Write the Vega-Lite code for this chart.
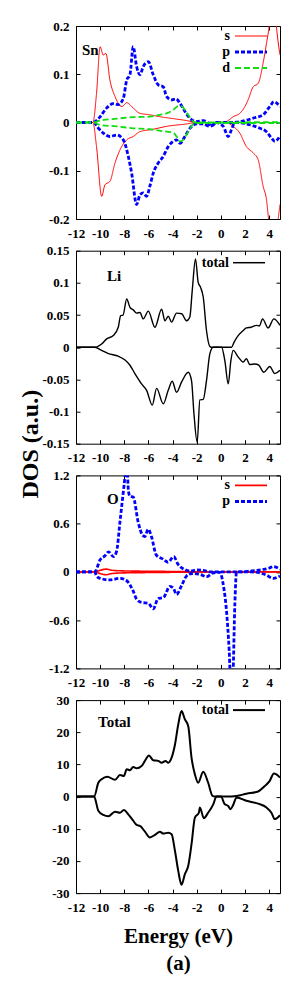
{
"$schema":"https://vega.github.io/schema/vega-lite/v6.json",
"background":"white",
"padding":{"left":17,"top":19,"right":19,"bottom":25},
"spacing":31.7,
"bounds":"flush",
"config":{
 "view":{"stroke":"#000","strokeWidth":1},
 "font":"Liberation Serif",
 "axis":{"labelFont":"Liberation Serif","labelFontWeight":"bold","labelFontSize":13,"labelColor":"#000","tickColor":"#000","tickSize":-4,"domain":false,"grid":false,"labelPadding":12,"labelOverlap":false,"labelFlush":false,"titleFont":"Liberation Serif","titleFontWeight":"bold","titleColor":"#000","labelExpr":"replace(format(datum.value, ''), '−', '-')"},
 "axisY":{"labelPadding":11},
 "legend":{"labelFont":"Liberation Serif","labelFontWeight":"bold","labelFontSize":14,"labelColor":"#000","symbolType":"stroke","symbolSize":1024,"labelAlign":"right","labelOffset":-37,"orient":"none","legendX":160,"padding":0,"rowPadding":2},
 "title":{"font":"Liberation Serif","fontWeight":"bold","color":"#000","fontSize":15}
},
"datasets":{
"sn":[
{"o":"s","s":"u","e":-12,"v":0},{"o":"s","s":"u","e":-10.6,"v":0},{"o":"s","s":"u","e":-10.3,"v":0.06},{"o":"s","s":"u","e":-10.0,"v":0.157},{"o":"s","s":"u","e":-9.75,"v":0.14},{"o":"s","s":"u","e":-9.52,"v":0.143},{"o":"s","s":"u","e":-9.19,"v":0.088},{"o":"s","s":"u","e":-8.77,"v":0.054},{"o":"s","s":"u","e":-8.2,"v":0.033},{"o":"s","s":"u","e":-7.8,"v":0.041},{"o":"s","s":"u","e":-7.26,"v":0.03},{"o":"s","s":"u","e":-6.7,"v":0.019},{"o":"s","s":"u","e":-5.9,"v":0.016},{"o":"s","s":"u","e":-5.05,"v":0.012},{"o":"s","s":"u","e":-3.95,"v":0.008},{"o":"s","s":"u","e":-2.84,"v":0.004},{"o":"s","s":"u","e":-2.0,"v":0},{"o":"s","s":"u","e":0.3,"v":0},{"o":"s","s":"u","e":0.6,"v":0.004},{"o":"s","s":"u","e":1.02,"v":0.012},{"o":"s","s":"u","e":1.57,"v":0.019},{"o":"s","s":"u","e":1.99,"v":0.033},{"o":"s","s":"u","e":2.26,"v":0.047},{"o":"s","s":"u","e":2.68,"v":0.074},{"o":"s","s":"u","e":3.09,"v":0.081},{"o":"s","s":"u","e":3.5,"v":0.123},{"o":"s","s":"u","e":3.78,"v":0.164},{"o":"s","s":"u","e":4.0,"v":0.2},{"o":"s","s":"u","e":4.3,"v":0.3},{"o":"s","s":"u","e":4.6,"v":0.2},{"o":"s","s":"u","e":4.9,"v":0.14},
{"o":"s","s":"d","e":-12,"v":0},{"o":"s","s":"d","e":-10.6,"v":0},{"o":"s","s":"d","e":-10.3,"v":-0.05},{"o":"s","s":"d","e":-9.87,"v":-0.153},{"o":"s","s":"d","e":-9.6,"v":-0.129},{"o":"s","s":"d","e":-9.19,"v":-0.122},{"o":"s","s":"d","e":-8.77,"v":-0.084},{"o":"s","s":"d","e":-8.36,"v":-0.057},{"o":"s","s":"d","e":-7.8,"v":-0.036},{"o":"s","s":"d","e":-7.26,"v":-0.029},{"o":"s","s":"d","e":-6.7,"v":-0.019},{"o":"s","s":"d","e":-5.6,"v":-0.014},{"o":"s","s":"d","e":-4.5,"v":-0.008},{"o":"s","s":"d","e":-2.84,"v":-0.003},{"o":"s","s":"d","e":-2.0,"v":0},{"o":"s","s":"d","e":0.4,"v":0},{"o":"s","s":"d","e":1.02,"v":-0.008},{"o":"s","s":"d","e":1.57,"v":-0.022},{"o":"s","s":"d","e":2.12,"v":-0.05},{"o":"s","s":"d","e":2.68,"v":-0.063},{"o":"s","s":"d","e":3.09,"v":-0.077},{"o":"s","s":"d","e":3.5,"v":-0.132},{"o":"s","s":"d","e":3.78,"v":-0.16},{"o":"s","s":"d","e":3.95,"v":-0.2},{"o":"s","s":"d","e":4.3,"v":-0.3},{"o":"s","s":"d","e":4.75,"v":-0.2},{"o":"s","s":"d","e":4.9,"v":-0.17},
{"o":"p","s":"u","e":-12,"v":0},{"o":"p","s":"u","e":-10.57,"v":0},{"o":"p","s":"u","e":-10.0,"v":0.012},{"o":"p","s":"u","e":-9.46,"v":0.03},{"o":"p","s":"u","e":-8.91,"v":0.039},{"o":"p","s":"u","e":-8.5,"v":0.037},{"o":"p","s":"u","e":-8.08,"v":0.05},{"o":"p","s":"u","e":-7.8,"v":0.088},{"o":"p","s":"u","e":-7.53,"v":0.099},{"o":"p","s":"u","e":-7.26,"v":0.157},{"o":"p","s":"u","e":-6.98,"v":0.116},{"o":"p","s":"u","e":-6.7,"v":0.099},{"o":"p","s":"u","e":-6.43,"v":0.116},{"o":"p","s":"u","e":-6.01,"v":0.126},{"o":"p","s":"u","e":-5.6,"v":0.099},{"o":"p","s":"u","e":-5.19,"v":0.078},{"o":"p","s":"u","e":-4.77,"v":0.074},{"o":"p","s":"u","e":-4.5,"v":0.054},{"o":"p","s":"u","e":-4.08,"v":0.047},{"o":"p","s":"u","e":-3.72,"v":0.049},{"o":"p","s":"u","e":-3.39,"v":0.04},{"o":"p","s":"u","e":-2.98,"v":0.023},{"o":"p","s":"u","e":-2.57,"v":0.009},{"o":"p","s":"u","e":-2.01,"v":0.002},{"o":"p","s":"u","e":-1.46,"v":0.004},{"o":"p","s":"u","e":-1.05,"v":-0.001},{"o":"p","s":"u","e":-0.77,"v":-0.007},{"o":"p","s":"u","e":-0.36,"v":0},{"o":"p","s":"u","e":1.0,"v":0},{"o":"p","s":"u","e":2.0,"v":0.004},{"o":"p","s":"u","e":2.68,"v":0.009},{"o":"p","s":"u","e":3.5,"v":0.016},{"o":"p","s":"u","e":4.05,"v":0.033},{"o":"p","s":"u","e":4.39,"v":0.043},{"o":"p","s":"u","e":4.9,"v":0.033},
{"o":"p","s":"d","e":-12,"v":0},{"o":"p","s":"d","e":-10.5,"v":0},{"o":"p","s":"d","e":-10.2,"v":-0.01},{"o":"p","s":"d","e":-9.74,"v":-0.022},{"o":"p","s":"d","e":-9.19,"v":-0.029},{"o":"p","s":"d","e":-8.63,"v":-0.026},{"o":"p","s":"d","e":-8.08,"v":-0.036},{"o":"p","s":"d","e":-7.67,"v":-0.07},{"o":"p","s":"d","e":-7.39,"v":-0.105},{"o":"p","s":"d","e":-6.98,"v":-0.17},{"o":"p","s":"d","e":-6.7,"v":-0.15},{"o":"p","s":"d","e":-6.43,"v":-0.146},{"o":"p","s":"d","e":-6.15,"v":-0.153},{"o":"p","s":"d","e":-5.88,"v":-0.132},{"o":"p","s":"d","e":-5.6,"v":-0.105},{"o":"p","s":"d","e":-5.19,"v":-0.084},{"o":"p","s":"d","e":-4.77,"v":-0.07},{"o":"p","s":"d","e":-4.36,"v":-0.05},{"o":"p","s":"d","e":-3.94,"v":-0.039},{"o":"p","s":"d","e":-3.67,"v":-0.036},{"o":"p","s":"d","e":-3.39,"v":-0.043},{"o":"p","s":"d","e":-2.98,"v":-0.029},{"o":"p","s":"d","e":-2.57,"v":-0.012},{"o":"p","s":"d","e":-2.01,"v":-0.003},{"o":"p","s":"d","e":-1.46,"v":-0.003},{"o":"p","s":"d","e":-0.91,"v":-0.008},{"o":"p","s":"d","e":-0.36,"v":0},{"o":"p","s":"d","e":0.2,"v":-0.008},{"o":"p","s":"d","e":0.61,"v":-0.029},{"o":"p","s":"d","e":0.88,"v":-0.015},{"o":"p","s":"d","e":1.16,"v":0},{"o":"p","s":"d","e":2.12,"v":-0.003},{"o":"p","s":"d","e":3.23,"v":-0.012},{"o":"p","s":"d","e":3.78,"v":-0.019},{"o":"p","s":"d","e":4.19,"v":-0.032},{"o":"p","s":"d","e":4.47,"v":-0.039},{"o":"p","s":"d","e":4.9,"v":-0.028},
{"o":"d","s":"u","e":-12,"v":0},{"o":"d","s":"u","e":-10.6,"v":0},{"o":"d","s":"u","e":-10,"v":0.004},{"o":"d","s":"u","e":-8.63,"v":0.008},{"o":"d","s":"u","e":-7.26,"v":0.011},{"o":"d","s":"u","e":-5.88,"v":0.012},{"o":"d","s":"u","e":-5.05,"v":0.016},{"o":"d","s":"u","e":-4.5,"v":0.019},{"o":"d","s":"u","e":-3.94,"v":0.026},{"o":"d","s":"u","e":-3.53,"v":0.034},{"o":"d","s":"u","e":-3.26,"v":0.034},{"o":"d","s":"u","e":-2.98,"v":0.026},{"o":"d","s":"u","e":-2.57,"v":0.011},{"o":"d","s":"u","e":-2.15,"v":0},{"o":"d","s":"u","e":4.9,"v":0.001},
{"o":"d","s":"d","e":-12,"v":0},{"o":"d","s":"d","e":-10.6,"v":0},{"o":"d","s":"d","e":-10,"v":-0.005},{"o":"d","s":"d","e":-8.63,"v":-0.008},{"o":"d","s":"d","e":-7.26,"v":-0.012},{"o":"d","s":"d","e":-5.88,"v":-0.014},{"o":"d","s":"d","e":-4.5,"v":-0.019},{"o":"d","s":"d","e":-3.94,"v":-0.021},{"o":"d","s":"d","e":-3.67,"v":-0.029},{"o":"d","s":"d","e":-3.39,"v":-0.039},{"o":"d","s":"d","e":-3.12,"v":-0.036},{"o":"d","s":"d","e":-2.7,"v":-0.019},{"o":"d","s":"d","e":-2.15,"v":-0.001},{"o":"d","s":"d","e":4.9,"v":-0.001}
],
"li":[
{"o":"total","s":"u","e":-12,"v":0},{"o":"total","s":"u","e":-10.43,"v":0},{"o":"total","s":"u","e":-9.88,"v":0.005},{"o":"total","s":"u","e":-9.46,"v":0.013},{"o":"total","s":"u","e":-8.91,"v":0.018},{"o":"total","s":"u","e":-8.5,"v":0.031},{"o":"total","s":"u","e":-8.3,"v":0.049},{"o":"total","s":"u","e":-8.1,"v":0.05},{"o":"total","s":"u","e":-7.8,"v":0.075},{"o":"total","s":"u","e":-7.53,"v":0.062},{"o":"total","s":"u","e":-7.26,"v":0.058},{"o":"total","s":"u","e":-6.98,"v":0.053},{"o":"total","s":"u","e":-6.7,"v":0.054},{"o":"total","s":"u","e":-6.43,"v":0.044},{"o":"total","s":"u","e":-6.01,"v":0.056},{"o":"total","s":"u","e":-5.46,"v":0.031},{"o":"total","s":"u","e":-4.91,"v":0.059},{"o":"total","s":"u","e":-4.63,"v":0.041},{"o":"total","s":"u","e":-4.36,"v":0.048},{"o":"total","s":"u","e":-4.08,"v":0.039},{"o":"total","s":"u","e":-3.67,"v":0.053},{"o":"total","s":"u","e":-3.25,"v":0.052},{"o":"total","s":"u","e":-2.84,"v":0.041},{"o":"total","s":"u","e":-2.57,"v":0.047},{"o":"total","s":"u","e":-2.37,"v":0.088},{"o":"total","s":"u","e":-2.1,"v":0.137},{"o":"total","s":"u","e":-1.88,"v":0.101},{"o":"total","s":"u","e":-1.68,"v":0.093},{"o":"total","s":"u","e":-1.46,"v":0.078},{"o":"total","s":"u","e":-1.19,"v":0.026},{"o":"total","s":"u","e":-0.91,"v":0.001},{"o":"total","s":"u","e":-0.8,"v":0},{"o":"total","s":"u","e":0.88,"v":0},{"o":"total","s":"u","e":1.1,"v":0.008},{"o":"total","s":"u","e":1.43,"v":0.018},{"o":"total","s":"u","e":1.85,"v":0.026},{"o":"total","s":"u","e":2.12,"v":0.03},{"o":"total","s":"u","e":2.5,"v":0.031},{"o":"total","s":"u","e":2.95,"v":0.034},{"o":"total","s":"u","e":3.2,"v":0.033},{"o":"total","s":"u","e":3.45,"v":0.044},{"o":"total","s":"u","e":3.92,"v":0.03},{"o":"total","s":"u","e":4.39,"v":0.044},{"o":"total","s":"u","e":4.9,"v":0.034},
{"o":"total","s":"d","e":-12,"v":0},{"o":"total","s":"d","e":-10.43,"v":0},{"o":"total","s":"d","e":-9.88,"v":-0.005},{"o":"total","s":"d","e":-9.32,"v":-0.01},{"o":"total","s":"d","e":-8.5,"v":-0.014},{"o":"total","s":"d","e":-7.94,"v":-0.02},{"o":"total","s":"d","e":-7.53,"v":-0.028},{"o":"total","s":"d","e":-7.12,"v":-0.041},{"o":"total","s":"d","e":-6.57,"v":-0.057},{"o":"total","s":"d","e":-6.15,"v":-0.067},{"o":"total","s":"d","e":-5.68,"v":-0.09},{"o":"total","s":"d","e":-5.32,"v":-0.064},{"o":"total","s":"d","e":-4.77,"v":-0.088},{"o":"total","s":"d","e":-4.36,"v":-0.067},{"o":"total","s":"d","e":-4.03,"v":-0.053},{"o":"total","s":"d","e":-3.67,"v":-0.07},{"o":"total","s":"d","e":-3.25,"v":-0.054},{"o":"total","s":"d","e":-2.7,"v":-0.039},{"o":"total","s":"d","e":-2.43,"v":-0.052},{"o":"total","s":"d","e":-2.23,"v":-0.103},{"o":"total","s":"d","e":-1.96,"v":-0.148},{"o":"total","s":"d","e":-1.74,"v":-0.082},{"o":"total","s":"d","e":-1.46,"v":-0.081},{"o":"total","s":"d","e":-1.19,"v":-0.052},{"o":"total","s":"d","e":-0.91,"v":-0.01},{"o":"total","s":"d","e":-0.63,"v":0},{"o":"total","s":"d","e":0.06,"v":0},{"o":"total","s":"d","e":0.33,"v":-0.021},{"o":"total","s":"d","e":0.61,"v":-0.057},{"o":"total","s":"d","e":0.83,"v":-0.021},{"o":"total","s":"d","e":1.02,"v":-0.005},{"o":"total","s":"d","e":1.43,"v":-0.015},{"o":"total","s":"d","e":1.85,"v":-0.023},{"o":"total","s":"d","e":2.12,"v":-0.018},{"o":"total","s":"d","e":2.4,"v":-0.027},{"o":"total","s":"d","e":2.81,"v":-0.026},{"o":"total","s":"d","e":3.14,"v":-0.028},{"o":"total","s":"d","e":3.56,"v":-0.039},{"o":"total","s":"d","e":4.05,"v":-0.03},{"o":"total","s":"d","e":4.47,"v":-0.041},{"o":"total","s":"d","e":4.9,"v":-0.036}
],
"ox":[
{"o":"s","s":"u","e":-12,"v":0},{"o":"s","s":"u","e":-10.5,"v":0},{"o":"s","s":"u","e":-10,"v":0.02},{"o":"s","s":"u","e":-9.5,"v":0.035},{"o":"s","s":"u","e":-9,"v":0.02},{"o":"s","s":"u","e":-8,"v":0.012},{"o":"s","s":"u","e":-6,"v":0.008},{"o":"s","s":"u","e":-4,"v":0.005},{"o":"s","s":"u","e":-2,"v":0.002},{"o":"s","s":"u","e":0,"v":0},{"o":"s","s":"u","e":4.9,"v":0.002},
{"o":"s","s":"d","e":-12,"v":0},{"o":"s","s":"d","e":-10.5,"v":0},{"o":"s","s":"d","e":-10,"v":-0.02},{"o":"s","s":"d","e":-9.5,"v":-0.035},{"o":"s","s":"d","e":-9,"v":-0.02},{"o":"s","s":"d","e":-8,"v":-0.012},{"o":"s","s":"d","e":-6,"v":-0.008},{"o":"s","s":"d","e":-4,"v":-0.005},{"o":"s","s":"d","e":-2,"v":-0.002},{"o":"s","s":"d","e":0,"v":0},{"o":"s","s":"d","e":4.9,"v":-0.002},
{"o":"p","s":"u","e":-12,"v":0},{"o":"p","s":"u","e":-10.45,"v":0},{"o":"p","s":"u","e":-10.0,"v":0.15},{"o":"p","s":"u","e":-9.6,"v":0.2},{"o":"p","s":"u","e":-9.3,"v":0.25},{"o":"p","s":"u","e":-8.9,"v":0.19},{"o":"p","s":"u","e":-8.63,"v":0.26},{"o":"p","s":"u","e":-8.36,"v":0.62},{"o":"p","s":"u","e":-8.0,"v":1.1},{"o":"p","s":"u","e":-7.8,"v":1.35},{"o":"p","s":"u","e":-7.65,"v":1.0},{"o":"p","s":"u","e":-7.53,"v":0.94},{"o":"p","s":"u","e":-7.26,"v":0.93},{"o":"p","s":"u","e":-6.85,"v":0.62},{"o":"p","s":"u","e":-6.5,"v":0.46},{"o":"p","s":"u","e":-6.3,"v":0.44},{"o":"p","s":"u","e":-6.02,"v":0.53},{"o":"p","s":"u","e":-5.75,"v":0.44},{"o":"p","s":"u","e":-5.35,"v":0.21},{"o":"p","s":"u","e":-4.8,"v":0.16},{"o":"p","s":"u","e":-4.38,"v":0.12},{"o":"p","s":"u","e":-3.9,"v":0.19},{"o":"p","s":"u","e":-3.57,"v":0.1},{"o":"p","s":"u","e":-3.0,"v":0.03},{"o":"p","s":"u","e":-2.5,"v":0.01},{"o":"p","s":"u","e":-2.0,"v":0.025},{"o":"p","s":"u","e":-1.46,"v":0.02},{"o":"p","s":"u","e":-0.9,"v":0},{"o":"p","s":"u","e":1.57,"v":0},{"o":"p","s":"u","e":2.4,"v":0.01},{"o":"p","s":"u","e":3.5,"v":0.03},{"o":"p","s":"u","e":4.05,"v":0.05},{"o":"p","s":"u","e":4.33,"v":0.066},{"o":"p","s":"u","e":4.9,"v":0.033},
{"o":"p","s":"d","e":-12,"v":0},{"o":"p","s":"d","e":-10.45,"v":0},{"o":"p","s":"d","e":-10.3,"v":-0.05},{"o":"p","s":"d","e":-10.0,"v":-0.08},{"o":"p","s":"d","e":-9.19,"v":-0.1},{"o":"p","s":"d","e":-8.36,"v":-0.08},{"o":"p","s":"d","e":-7.8,"v":-0.11},{"o":"p","s":"d","e":-7.26,"v":-0.24},{"o":"p","s":"d","e":-6.98,"v":-0.34},{"o":"p","s":"d","e":-6.57,"v":-0.38},{"o":"p","s":"d","e":-6.01,"v":-0.39},{"o":"p","s":"d","e":-5.6,"v":-0.46},{"o":"p","s":"d","e":-5.19,"v":-0.33},{"o":"p","s":"d","e":-4.77,"v":-0.32},{"o":"p","s":"d","e":-4.22,"v":-0.18},{"o":"p","s":"d","e":-3.94,"v":-0.2},{"o":"p","s":"d","e":-3.67,"v":-0.28},{"o":"p","s":"d","e":-3.25,"v":-0.17},{"o":"p","s":"d","e":-2.84,"v":-0.05},{"o":"p","s":"d","e":-2.4,"v":-0.02},{"o":"p","s":"d","e":-1.74,"v":-0.03},{"o":"p","s":"d","e":-1.19,"v":-0.06},{"o":"p","s":"d","e":-0.63,"v":-0.012},{"o":"p","s":"d","e":-0.08,"v":-0.005},{"o":"p","s":"d","e":0.19,"v":-0.15},{"o":"p","s":"d","e":0.47,"v":-0.49},{"o":"p","s":"d","e":0.69,"v":-0.98},{"o":"p","s":"d","e":0.85,"v":-1.5},{"o":"p","s":"d","e":1.0,"v":-1.3},{"o":"p","s":"d","e":1.16,"v":-0.4},{"o":"p","s":"d","e":1.3,"v":0},{"o":"p","s":"d","e":2.5,"v":0},{"o":"p","s":"d","e":3.78,"v":-0.04},{"o":"p","s":"d","e":4.33,"v":-0.08},{"o":"p","s":"d","e":4.9,"v":-0.05}
],
"tot":[
{"o":"total","s":"u","e":-12,"v":0},{"o":"total","s":"u","e":-10.5,"v":0},{"o":"total","s":"u","e":-10.15,"v":4.3},{"o":"total","s":"u","e":-9.88,"v":5.4},{"o":"total","s":"u","e":-9.4,"v":6.2},{"o":"total","s":"u","e":-8.77,"v":5.2},{"o":"total","s":"u","e":-8.36,"v":6.7},{"o":"total","s":"u","e":-8.03,"v":6.4},{"o":"total","s":"u","e":-7.8,"v":8.5},{"o":"total","s":"u","e":-7.53,"v":8.2},{"o":"total","s":"u","e":-7.26,"v":9.2},{"o":"total","s":"u","e":-6.98,"v":8.8},{"o":"total","s":"u","e":-6.57,"v":9.5},{"o":"total","s":"u","e":-6.29,"v":11.1},{"o":"total","s":"u","e":-5.96,"v":12.8},{"o":"total","s":"u","e":-5.6,"v":11.3},{"o":"total","s":"u","e":-5.19,"v":11.1},{"o":"total","s":"u","e":-4.91,"v":10.5},{"o":"total","s":"u","e":-4.58,"v":11.1},{"o":"total","s":"u","e":-4.36,"v":10.5},{"o":"total","s":"u","e":-4.08,"v":12.1},{"o":"total","s":"u","e":-3.8,"v":16.2},{"o":"total","s":"u","e":-3.53,"v":22.4},{"o":"total","s":"u","e":-3.26,"v":26.6},{"o":"total","s":"u","e":-2.98,"v":24},{"o":"total","s":"u","e":-2.7,"v":21.9},{"o":"total","s":"u","e":-2.43,"v":12.1},{"o":"total","s":"u","e":-2.15,"v":6.9},{"o":"total","s":"u","e":-1.88,"v":4.3},{"o":"total","s":"u","e":-1.46,"v":7.7},{"o":"total","s":"u","e":-1.05,"v":4.3},{"o":"total","s":"u","e":-0.69,"v":0.2},{"o":"total","s":"u","e":-0.5,"v":0},{"o":"total","s":"u","e":0.47,"v":0},{"o":"total","s":"u","e":1.3,"v":0.2},{"o":"total","s":"u","e":2.12,"v":0.9},{"o":"total","s":"u","e":3.09,"v":1.6},{"o":"total","s":"u","e":3.64,"v":3.3},{"o":"total","s":"u","e":4.05,"v":4.9},{"o":"total","s":"u","e":4.39,"v":7.2},{"o":"total","s":"u","e":4.6,"v":6.9},{"o":"total","s":"u","e":4.9,"v":5.9},
{"o":"total","s":"d","e":-12,"v":0},{"o":"total","s":"d","e":-10.5,"v":0},{"o":"total","s":"d","e":-10.15,"v":-4.4},{"o":"total","s":"d","e":-9.74,"v":-5.7},{"o":"total","s":"d","e":-9.32,"v":-6.1},{"o":"total","s":"d","e":-8.77,"v":-4.7},{"o":"total","s":"d","e":-8.36,"v":-5.0},{"o":"total","s":"d","e":-8.03,"v":-4.2},{"o":"total","s":"d","e":-7.67,"v":-5.5},{"o":"total","s":"d","e":-7.26,"v":-7.5},{"o":"total","s":"d","e":-6.98,"v":-8.8},{"o":"total","s":"d","e":-6.7,"v":-9.1},{"o":"total","s":"d","e":-6.29,"v":-10.9},{"o":"total","s":"d","e":-5.88,"v":-12.7},{"o":"total","s":"d","e":-5.46,"v":-11.9},{"o":"total","s":"d","e":-5.05,"v":-10.9},{"o":"total","s":"d","e":-4.77,"v":-11.5},{"o":"total","s":"d","e":-4.36,"v":-11.2},{"o":"total","s":"d","e":-4.08,"v":-11.7},{"o":"total","s":"d","e":-3.8,"v":-16.9},{"o":"total","s":"d","e":-3.53,"v":-23.1},{"o":"total","s":"d","e":-3.26,"v":-27.4},{"o":"total","s":"d","e":-2.98,"v":-24.1},{"o":"total","s":"d","e":-2.7,"v":-21.5},{"o":"total","s":"d","e":-2.43,"v":-14.8},{"o":"total","s":"d","e":-2.15,"v":-6.5},{"o":"total","s":"d","e":-1.82,"v":-5.0},{"o":"total","s":"d","e":-1.74,"v":-3.4},{"o":"total","s":"d","e":-1.41,"v":-6.7},{"o":"total","s":"d","e":-1.05,"v":-5},{"o":"total","s":"d","e":-0.63,"v":-2.4},{"o":"total","s":"d","e":-0.36,"v":0},{"o":"total","s":"d","e":0.0,"v":0},{"o":"total","s":"d","e":0.33,"v":-2.4},{"o":"total","s":"d","e":0.61,"v":-2.9},{"o":"total","s":"d","e":0.8,"v":-3.9},{"o":"total","s":"d","e":1.02,"v":-2.6},{"o":"total","s":"d","e":1.3,"v":-0.3},{"o":"total","s":"d","e":2.12,"v":-1.3},{"o":"total","s":"d","e":3.09,"v":-2.2},{"o":"total","s":"d","e":3.78,"v":-3.4},{"o":"total","s":"d","e":4.19,"v":-5},{"o":"total","s":"d","e":4.47,"v":-7},{"o":"total","s":"d","e":4.9,"v":-5.8}
]
},
"vconcat":[
{
 "width":204,"height":193,
 "title":{"text":"Sn","anchor":"start","frame":"group","offset":-45,"dx":6,"baseline":"middle"},
 "layer":[
  {"mark":{"type":"rule","color":"#999","strokeWidth":1},"encoding":{"y":{"datum":0,"type":"quantitative","scale":{"domain":[-0.2,0.2],"nice":false,"zero":false},"axis":{"orient":"right","labels":false,"title":null,"values":[-0.2,-0.1,0,0.1,0.2]}}}},
  {"mark":{"type":"rule","color":"#555","strokeWidth":1},"encoding":{"x":{"datum":0,"type":"quantitative","scale":{"domain":[-12,4.9],"nice":false,"zero":false},"axis":{"orient":"top","labels":false,"title":null,"values":[-12,-10,-8,-6,-4,-2,0,2,4]}}}},
  {"data":{"name":"sn"},"transform":[{"filter":"datum.o==='s'"}],"mark":{"type":"line","clip":true,"strokeWidth":1,"interpolate":"monotone"},
   "encoding":{
    "x":{"field":"e","type":"quantitative","scale":{"domain":[-12,4.9],"nice":false,"zero":false},"axis":{"orient":"bottom","title":null,"values":[-12,-10,-8,-6,-4,-2,0,2,4]}},
    "y":{"field":"v","type":"quantitative","scale":{"domain":[-0.2,0.2],"nice":false,"zero":false},"axis":{"orient":"left","title":null,"values":[-0.2,-0.1,0,0.1,0.2]}},
    "color":{"field":"o","type":"nominal","scale":{"domain":["s","p","d"],"range":["#ff0000","#0000ff","#11dd11"]},"legend":{"title":null,"legendX":168,"labelOffset":-28,"legendY":3,"encode":{"symbols":{"update":{"strokeWidth":{"signal":"datum.value==='s'?1:datum.value==='p'?3:2"}}}}}},
    "strokeDash":{"field":"o","type":"nominal","scale":{"domain":["s","p","d"],"range":[[1,0],[4,2],[6,3]]},"legend":{"title":null,"legendX":168,"labelOffset":-28,"legendY":3}},
    "detail":{"field":"s"}}},
  {"data":{"name":"sn"},"transform":[{"filter":"datum.o==='p'"}],"mark":{"type":"line","clip":true,"strokeWidth":2.8,"interpolate":"monotone"},
   "encoding":{
    "x":{"field":"e","type":"quantitative","scale":{"domain":[-12,4.9],"nice":false,"zero":false},"axis":null},
    "y":{"field":"v","type":"quantitative","scale":{"domain":[-0.2,0.2],"nice":false,"zero":false},"axis":null},
    "color":{"field":"o","type":"nominal","scale":{"domain":["s","p","d"],"range":["#ff0000","#0000ff","#11dd11"]}},
    "strokeDash":{"field":"o","type":"nominal","scale":{"domain":["s","p","d"],"range":[[1,0],[4,2],[6,3]]}},
    "detail":{"field":"s"}}},
  {"data":{"name":"sn"},"transform":[{"filter":"datum.o==='d'"}],"mark":{"type":"line","clip":true,"strokeWidth":1.8,"interpolate":"monotone"},
   "encoding":{
    "x":{"field":"e","type":"quantitative","scale":{"domain":[-12,4.9],"nice":false,"zero":false},"axis":null},
    "y":{"field":"v","type":"quantitative","scale":{"domain":[-0.2,0.2],"nice":false,"zero":false},"axis":null},
    "color":{"field":"o","type":"nominal","scale":{"domain":["s","p","d"],"range":["#ff0000","#0000ff","#11dd11"]}},
    "strokeDash":{"field":"o","type":"nominal","scale":{"domain":["s","p","d"],"range":[[1,0],[4,2],[6,3]]}},
    "detail":{"field":"s"}}}
 ],
 "resolve":{"axis":{"x":"independent","y":"independent"}}
},
{
 "width":204,"height":193,
 "title":{"text":"Li","anchor":"start","frame":"group","offset":-46,"dx":31,"baseline":"middle"},
 "layer":[
  {"mark":{"type":"rule","color":"#888","strokeWidth":1},"encoding":{"y":{"datum":0,"type":"quantitative","scale":{"domain":[-0.15,0.15],"nice":false,"zero":false},"axis":{"orient":"right","labels":false,"title":null,"values":[-0.15,-0.1,-0.05,0,0.05,0.1,0.15]}}}},
  {"mark":{"type":"rule","color":"#555","strokeWidth":1},"encoding":{"x":{"datum":0,"type":"quantitative","scale":{"domain":[-12,4.9],"nice":false,"zero":false},"axis":{"orient":"top","labels":false,"title":null,"values":[-12,-10,-8,-6,-4,-2,0,2,4]}}}},
  {"data":{"name":"li"},"mark":{"type":"line","clip":true,"strokeWidth":1.4,"interpolate":"monotone"},
   "encoding":{
    "x":{"field":"e","type":"quantitative","scale":{"domain":[-12,4.9],"nice":false,"zero":false},"axis":{"orient":"bottom","title":null,"values":[-12,-10,-8,-6,-4,-2,0,2,4]}},
    "y":{"field":"v","type":"quantitative","scale":{"domain":[-0.15,0.15],"nice":false,"zero":false},"axis":{"orient":"left","title":"DOS (a.u.)","titleFontSize":24,"titleX":-46,"titleY":193,"titleBaseline":"middle","titleAngle":-90,"values":[-0.15,-0.1,-0.05,0,0.05,0.1,0.15]}},
    "color":{"field":"o","type":"nominal","scale":{"domain":["total"],"range":["#000000"]},"legend":{"title":null,"legendX":156,"legendY":-5,"symbolStrokeWidth":1.5}},
    "detail":{"field":"s"}}}
 ],
 "resolve":{"axis":{"x":"independent","y":"independent"}}
},
{
 "width":204,"height":193,
 "title":{"text":"O","anchor":"start","frame":"group","offset":-45,"dx":31,"baseline":"middle"},
 "layer":[
  {"mark":{"type":"rule","color":"#888","strokeWidth":1},"encoding":{"y":{"datum":0,"type":"quantitative","scale":{"domain":[-1.2,1.2],"nice":false,"zero":false},"axis":{"orient":"right","labels":false,"title":null,"values":[-1.2,-0.6,0,0.6,1.2]}}}},
  {"mark":{"type":"rule","color":"#555","strokeWidth":1},"encoding":{"x":{"datum":0,"type":"quantitative","scale":{"domain":[-12,4.9],"nice":false,"zero":false},"axis":{"orient":"top","labels":false,"title":null,"values":[-12,-10,-8,-6,-4,-2,0,2,4]}}}},
  {"data":{"name":"ox"},"transform":[{"filter":"datum.o==='s'"}],"mark":{"type":"line","clip":true,"strokeWidth":1.6,"interpolate":"monotone"},
   "encoding":{
    "x":{"field":"e","type":"quantitative","scale":{"domain":[-12,4.9],"nice":false,"zero":false},"axis":{"orient":"bottom","title":null,"values":[-12,-10,-8,-6,-4,-2,0,2,4]}},
    "y":{"field":"v","type":"quantitative","scale":{"domain":[-1.2,1.2],"nice":false,"zero":false},"axis":{"orient":"left","title":null,"values":[-1.2,-0.6,0,0.6,1.2]}},
    "color":{"field":"o","type":"nominal","scale":{"domain":["s","p"],"range":["#ff0000","#0000ff"]},"legend":{"title":null,"legendX":168,"labelOffset":-28,"legendY":3,"encode":{"symbols":{"update":{"strokeWidth":{"signal":"datum.value==='s'?1.6:3"}}}}}},
    "strokeDash":{"field":"o","type":"nominal","scale":{"domain":["s","p"],"range":[[1,0],[4,2]]},"legend":{"title":null,"legendX":168,"labelOffset":-28,"legendY":3}},
    "detail":{"field":"s"}}},
  {"data":{"name":"ox"},"transform":[{"filter":"datum.o==='p'"}],"mark":{"type":"line","clip":true,"strokeWidth":2.8,"interpolate":"monotone"},
   "encoding":{
    "x":{"field":"e","type":"quantitative","scale":{"domain":[-12,4.9],"nice":false,"zero":false},"axis":null},
    "y":{"field":"v","type":"quantitative","scale":{"domain":[-1.2,1.2],"nice":false,"zero":false},"axis":null},
    "color":{"field":"o","type":"nominal","scale":{"domain":["s","p"],"range":["#ff0000","#0000ff"]}},
    "strokeDash":{"field":"o","type":"nominal","scale":{"domain":["s","p"],"range":[[1,0],[4,2]]}},
    "detail":{"field":"s"}}}
 ],
 "resolve":{"axis":{"x":"independent","y":"independent"}}
},
{
 "width":204,"height":193,
 "title":{"text":"Total","anchor":"start","frame":"group","offset":-44,"dx":22,"baseline":"middle"},
 "layer":[
  {"mark":{"type":"rule","color":"#888","strokeWidth":1},"encoding":{"y":{"datum":0,"type":"quantitative","scale":{"domain":[-30,30],"nice":false,"zero":false},"axis":{"orient":"right","labels":false,"title":null,"values":[-30,-20,-10,0,10,20,30]}}}},
  {"mark":{"type":"rule","color":"#555","strokeWidth":1},"encoding":{"x":{"datum":0,"type":"quantitative","scale":{"domain":[-12,4.9],"nice":false,"zero":false},"axis":{"orient":"top","labels":false,"title":null,"values":[-12,-10,-8,-6,-4,-2,0,2,4]}}}},
  {"data":{"name":"tot"},"mark":{"type":"line","clip":true,"strokeWidth":2,"interpolate":"monotone"},
   "encoding":{
    "x":{"field":"e","type":"quantitative","scale":{"domain":[-12,4.9],"nice":false,"zero":false},"axis":{"orient":"bottom","title":["Energy (eV)","(a)"],"titleFontSize":21,"titleLineHeight":27,"titleBaseline":"middle","titleY":43,"values":[-12,-10,-8,-6,-4,-2,0,2,4]}},
    "y":{"field":"v","type":"quantitative","scale":{"domain":[-30,30],"nice":false,"zero":false},"axis":{"orient":"left","title":null,"values":[-30,-20,-10,0,10,20,30]}},
    "color":{"field":"o","type":"nominal","scale":{"domain":["total"],"range":["#000000"]},"legend":{"title":null,"legendX":156,"legendY":-7,"symbolStrokeWidth":2}},
    "detail":{"field":"s"}}}
 ],
 "resolve":{"axis":{"x":"independent","y":"independent"}}
}
],
"resolve":{"scale":{"color":"independent","strokeDash":"independent"},"legend":{"color":"independent","strokeDash":"independent"}}
}
